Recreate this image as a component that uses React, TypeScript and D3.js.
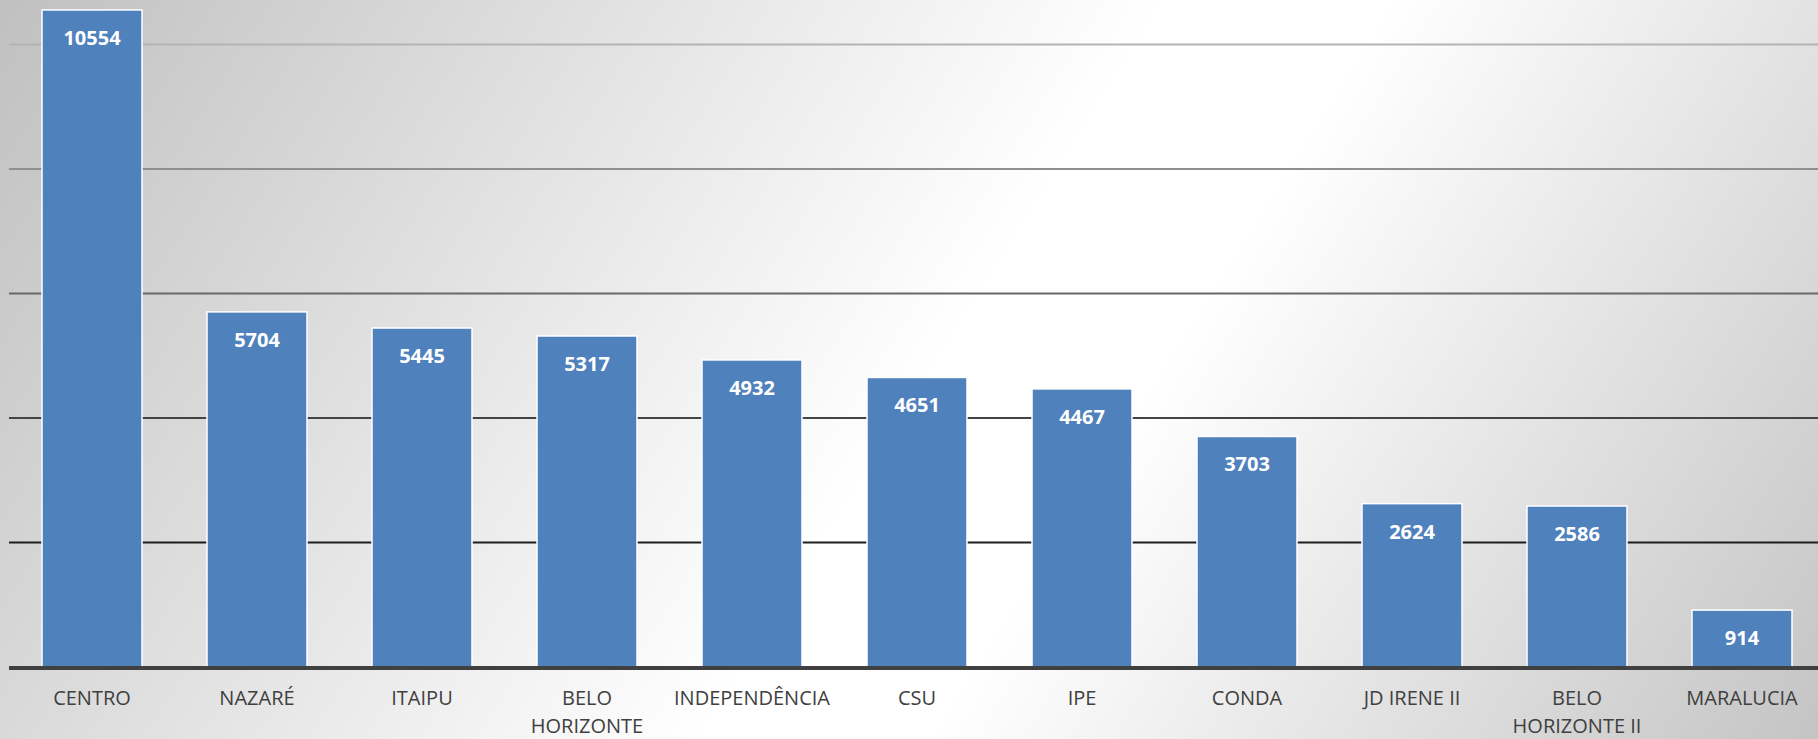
import React, { useEffect, useRef } from "react";
import * as d3 from "d3";

// bairros and counts
const bairros = [
  "CENTRO",
  "NAZARÉ",
  "ITAIPU",
  "BELO HORIZONTE",
  "INDEPENDÊNCIA",
  "CSU",
  "IPE",
  "CONDA",
  "JD IRENE II",
  "BELO HORIZONTE II",
  "MARALUCIA"
];
const totais = [10554, 5704, 5445, 5317, 4932, 4651, 4467, 3703, 2624, 2586, 914];
const gridValores = [2000, 4000, 6000, 8000, 10000];

const WIDTH = 1818;
const HEIGHT = 739;

function wrap(texts: any, width: number) {
  texts.each(function (this: SVGTextElement) {
    var text = d3.select(this);
    var words = text.text().split(/\s+/).reverse();
    var word;
    var line: string[] = [];
    var lineNumber = 0;
    var lineHeight = 28;
    var x = text.attr("x");
    var y = text.attr("y");
    var tspan = text.text(null).append("tspan").attr("x", x).attr("y", y);
    while ((word = words.pop())) {
      line.push(word);
      tspan.text(line.join(" "));
      if ((tspan.node() as SVGTSpanElement).getComputedTextLength() > width && line.length > 1) {
        line.pop();
        tspan.text(line.join(" "));
        line = [word];
        lineNumber++;
        tspan = text
          .append("tspan")
          .attr("x", x)
          .attr("y", +y + lineNumber * lineHeight)
          .text(word);
      }
    }
  });
}

export default function App() {
  const ref = useRef<SVGSVGElement>(null);

  useEffect(() => {
    document.body.style.margin = "0";
    var svg = d3.select(ref.current);
    svg.selectAll("*").remove();

    var left = 9;
    var baseY = 667;

    var x = d3
      .scaleBand()
      .domain(bairros)
      .range([9.5, 1824.5])
      .paddingInner(0.394)
      .paddingOuter(0.197);

    var y = d3.scaleLinear().domain([0, 10714]).range([baseY, 0]);

    // background: diagonal white band between grey edges
    var cx = 1044,
      cy = 370,
      dx = 0.847,
      dy = 0.532;
    var defs = svg.append("defs");
    var grad = defs
      .append("linearGradient")
      .attr("id", "bg")
      .attr("gradientUnits", "userSpaceOnUse")
      .attr("x1", cx - 1081 * dx)
      .attr("y1", cy - 1081 * dy)
      .attr("x2", cx + 853 * dx)
      .attr("y2", cy + 853 * dy);
    grad.append("stop").attr("offset", 0).attr("stop-color", "#c0c0c0");
    grad.append("stop").attr("offset", 0.51).attr("stop-color", "#ffffff");
    grad.append("stop").attr("offset", 0.61).attr("stop-color", "#ffffff");
    grad.append("stop").attr("offset", 1).attr("stop-color", "#c4c4c4");

    svg
      .append("rect")
      .attr("width", WIDTH)
      .attr("height", HEIGHT)
      .attr("fill", "url(#bg)");

    // gridlines, darker toward the bottom
    var gridCor = d3
      .scaleLinear<string>()
      .domain([2000, 10000])
      .range(["#1e1e1e", "#b4b4b4"]);

    svg
      .selectAll("line.grid")
      .data(gridValores)
      .enter()
      .append("line")
      .classed("grid", true)
      .attr("x1", left)
      .attr("x2", WIDTH)
      .attr("y1", d => y(d))
      .attr("y2", d => y(d))
      .attr("stroke", d => gridCor(d))
      .attr("stroke-width", 2);

    // bars
    svg
      .selectAll("rect.bar")
      .data(totais)
      .enter()
      .append("rect")
      .classed("bar", true)
      .attr("x", (d, i) => x(bairros[i]) as number)
      .attr("y", d => y(d))
      .attr("width", x.bandwidth())
      .attr("height", d => baseY - y(d))
      .attr("fill", "#4f81bd")
      .attr("stroke", "#ffffff")
      .attr("stroke-width", 1.5);

    // baseline
    svg
      .append("line")
      .attr("x1", left)
      .attr("x2", WIDTH)
      .attr("y1", baseY + 1)
      .attr("y2", baseY + 1)
      .attr("stroke", "#404040")
      .attr("stroke-width", 4);

    // value labels
    svg
      .selectAll("text.valor")
      .data(totais)
      .enter()
      .append("text")
      .classed("valor", true)
      .attr("x", (d, i) => (x(bairros[i]) as number) + x.bandwidth() / 2)
      .attr("y", d => y(d) + 35)
      .attr("text-anchor", "middle")
      .attr("fill", "#ffffff")
      .attr("font-family", "'Open Sans', sans-serif")
      .attr("font-weight", "bold")
      .attr("font-size", 20)
      .text(d => d);

    // category labels
    svg
      .selectAll("text.cat")
      .data(bairros)
      .enter()
      .append("text")
      .classed("cat", true)
      .attr("x", d => (x(d) as number) + x.bandwidth() / 2)
      .attr("y", 705)
      .attr("text-anchor", "middle")
      .attr("fill", "#404040")
      .attr("font-family", "'Open Sans', sans-serif")
      .attr("font-size", 20)
      .text(d => d)
      .call(wrap, x.step() - 10);
  }, []);

  return <svg ref={ref} width={WIDTH} height={HEIGHT} style={{ display: "block" }} />;
}
